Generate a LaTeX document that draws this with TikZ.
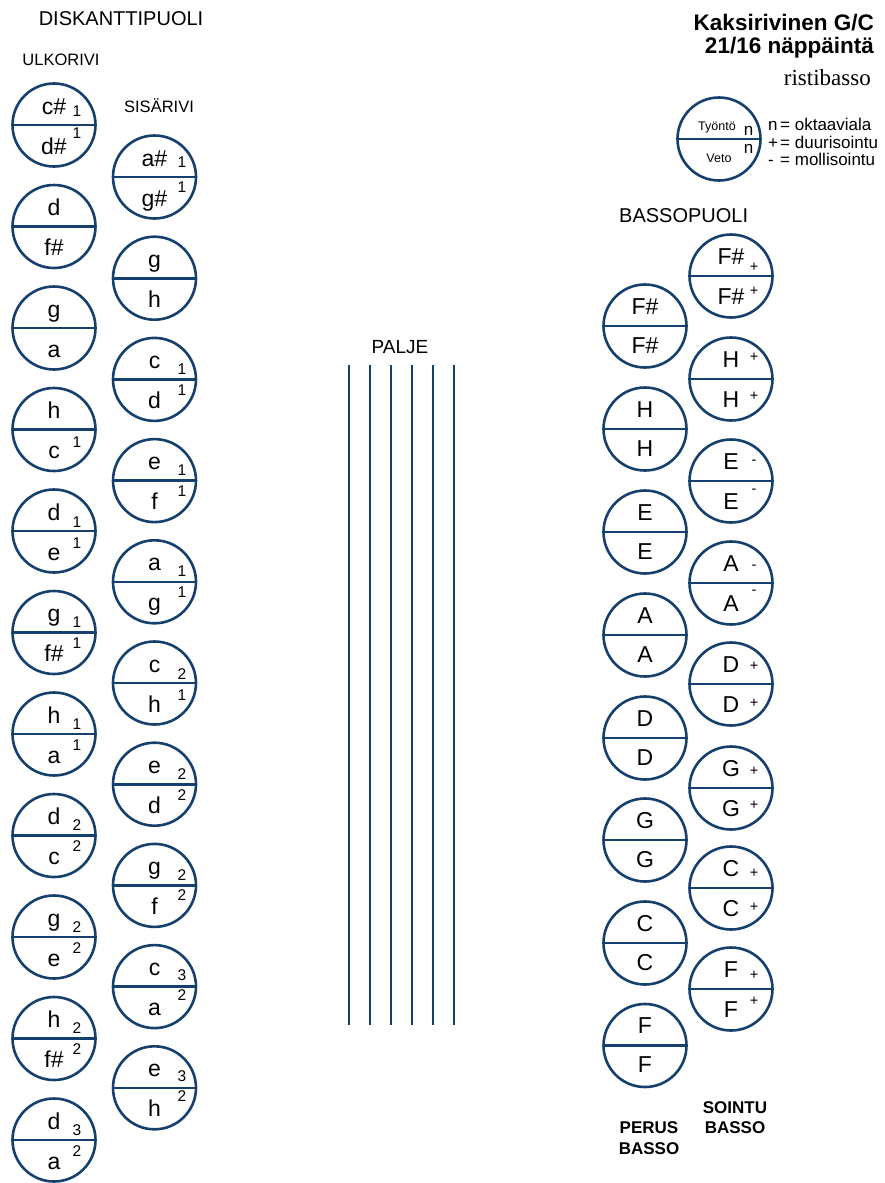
\documentclass[tikz,border=0pt]{standalone}
\usepackage{fontspec}
\setmainfont{Liberation Sans}
\newfontfamily\serifttl{Liberation Serif}
\definecolor{keyblue}{HTML}{15406E}
\tikzset{
  key/.style={circle,draw=keyblue,line width=2.6pt,minimum size=83pt,inner sep=0pt,outer sep=0pt},
  divider/.style={draw=keyblue,line width=2.6pt},
  bellows/.style={draw=keyblue,line width=2.6pt},
  note/.style={inner sep=0pt,font=\fontsize{23}{26}\selectfont,anchor=base},
  marknum/.style={inner sep=0pt,font=\fontsize{15.5}{18}\selectfont,anchor=base},
  signmark/.style={inner sep=0pt,font=\fontsize{14.5}{16}\selectfont,anchor=center},
  heading/.style={inner sep=0pt,font=\fontsize{20}{24}\selectfont,anchor=base},
  rowlabel/.style={inner sep=0pt,font=\fontsize{16.5}{20}\selectfont,anchor=base},
  basslabel/.style={inner sep=0pt,font=\bfseries\fontsize{17}{20}\selectfont,anchor=base},
  legendtxt/.style={inner sep=0pt,font=\fontsize{17}{20}\selectfont,anchor=base west},
  titletxt/.style={inner sep=0pt,font=\bfseries\fontsize{22.5}{26}\selectfont,anchor=base east},
}
\def\mdx{23}
% name, x, y, top, bottom, top mark, top mark baseline offset, bottom mark, bottom mark baseline offset
\newcommand\keybtn[9]{%
  \node[key] (#1) at (#2,#3) {};
  \draw[divider] (#1.west) -- (#1.east);
  \node[note] (#1-t) at ({#2},{#3-11}) {#4};
  \node[note] (#1-b) at ({#2},{#3+29}) {#5};
  \if\relax\detokenize{#6}\relax\else
    \node[marknum] (#1-tm) at ({#2+\mdx},{#3+(#7)}) {#6};\fi
  \if\relax\detokenize{#8}\relax\else
    \node[marknum] (#1-bm) at ({#2+\mdx},{#3+(#9)}) {#8};\fi
}
% name, x, y, letter, top sign, top sign offset, bottom sign, bottom sign offset
\newcommand\chordbtn[8]{%
  \node[key] (#1) at (#2,#3) {};
  \draw[divider] (#1.west) -- (#1.east);
  \node[note] (#1-t) at ({#2},{#3-12}) {#4};
  \node[note] (#1-b) at ({#2},{#3+28}) {#4};
  \node[signmark] (#1-tm) at ({#2+23},{#3+(#6)}) {#5};
  \node[signmark] (#1-bm) at ({#2+23},{#3+(#8)}) {#7};
}
\newcommand\basebtn[4]{%
  \node[key] (#1) at (#2,#3) {};
  \draw[divider] (#1.west) -- (#1.east);
  \node[note] (#1-t) at ({#2},{#3-12}) {#4};
  \node[note] (#1-b) at ({#2},{#3+27}) {#4};
}
\begin{document}
\begin{tikzpicture}[x=1pt,y=-1pt]
\useasboundingbox[fill=white] (0,0) rectangle (885,1183);

% headings
\node[heading] (diskantti) at (121,25) {DISKANTTIPUOLI};
\node[rowlabel] (ulkorivi) at (61,65) {ULKORIVI};
\node[rowlabel] (sisarivi) at (159,112) {SISÄRIVI};
\node[heading,anchor=base west] (bassopuoli) at (619,222) {BASSOPUOLI};
\node[rowlabel,font=\fontsize{19}{22}\selectfont] (palje) at (400,353) {PALJE};

% title
\node[titletxt] (title1) at (874,30) {Kaksirivinen G/C};
\node[titletxt] (title2) at (874,53) {21/16 näppäintä};
\node[inner sep=0pt,anchor=base east,font=\serifttl\fontsize{23}{26}\selectfont] (title3) at (871,85) {ristibasso};

% legend
\node[key] (legend) at (719,139) {};
\draw[divider] (legend.west) -- (legend.east);
\node[inner sep=0pt,anchor=base,font=\fontsize{12.5}{14}\selectfont] (tyonto) at (717,130) {Työntö};
\node[inner sep=0pt,anchor=base,font=\fontsize{12.5}{14}\selectfont] (veto) at (719,162) {Veto};
\node[inner sep=0pt,anchor=base,font=\fontsize{17}{20}\selectfont] (legn1) at (748.5,135) {n};
\node[inner sep=0pt,anchor=base,font=\fontsize{17}{20}\selectfont] (legn2) at (748.5,153) {n};
\node[legendtxt] (leg1) at (768,130) {\makebox[12pt][l]{n}= oktaaviala};
\node[legendtxt] (leg2) at (768,148) {\makebox[12pt][l]{+}= duurisointu};
\node[legendtxt] (leg3) at (768,165) {\makebox[12pt][l]{-}= mollisointu};

% outer row
\def\mdx{23}
\keybtn{o1}{54}{125}{c\#}{d\#}{1}{-9}{1}{13}
\keybtn{o2}{54}{226.5}{d}{f\#}{}{0}{}{0}
\keybtn{o3}{54}{328}{g}{a}{}{0}{}{0}
\keybtn{o4}{54}{429.5}{h}{c}{}{0}{1}{18}
\keybtn{o5}{54}{531}{d}{e}{1}{-4}{1}{17}
\keybtn{o6}{54}{632.5}{g}{f\#}{1}{-5}{1}{16}
\keybtn{o7}{54}{734}{h}{a}{1}{-5}{1}{16}
\keybtn{o8}{54}{835.5}{d}{c}{2}{-5}{2}{16}
\keybtn{o9}{54}{937}{g}{e}{2}{-5}{2}{16}
\keybtn{o10}{54}{1038.5}{h}{f\#}{2}{-5}{2}{16}
\keybtn{o11}{54}{1140}{d}{a}{3}{-5}{2}{16}

% inner row
\def\mdx{27.5}
\keybtn{i1}{154.5}{177}{a\#}{g\#}{1}{-10}{1}{15}
\keybtn{i2}{154.5}{278.2}{g}{h}{}{0}{}{0}
\keybtn{i3}{154.5}{379.4}{c}{d}{1}{-5}{1}{16}
\keybtn{i4}{154.5}{480.6}{e}{f}{1}{-5}{1}{16}
\keybtn{i5}{154.5}{581.8}{a}{g}{1}{-5}{1}{16}
\keybtn{i6}{154.5}{683}{c}{h}{2}{-4}{1}{17}
\keybtn{i7}{154.5}{784.2}{e}{d}{2}{-5}{2}{16}
\keybtn{i8}{154.5}{885.4}{g}{f}{2}{-5}{2}{15}
\keybtn{i9}{154.5}{986.6}{c}{a}{3}{-6}{2}{14}
\keybtn{i10}{154.5}{1087.8}{e}{h}{3}{-6}{2}{14}

% bellows
\foreach \bx [count=\bi] in {349,370,391,412,433,454}{
  \coordinate (b\bi-top) at (\bx,365);
  \coordinate (b\bi-bot) at (\bx,1025);
  \draw[bellows] (b\bi-top) -- (b\bi-bot);
}

% bass: root row
\basebtn{p1}{645}{326}{F\#}
\basebtn{p2}{645}{429}{H}
\basebtn{p3}{645}{532}{E}
\basebtn{p4}{645}{635}{A}
\basebtn{p5}{645}{738}{D}
\basebtn{p6}{645}{840}{G}
\basebtn{p7}{645}{943}{C}
\basebtn{p8}{645}{1045.5}{F}

% bass: chord row
\chordbtn{s1}{731}{276}{F\#}{+}{-9}{+}{15.5}
\chordbtn{s2}{731}{379}{H}{+}{-21.5}{+}{17.5}
\chordbtn{s3}{731}{481}{E}{-}{-19}{-}{10}
\chordbtn{s4}{731}{583}{A}{-}{-16}{-}{9}
\chordbtn{s5}{731}{684}{D}{+}{-18}{+}{19}
\chordbtn{s6}{731}{788}{G}{+}{-17}{+}{17}
\chordbtn{s7}{731}{888}{C}{+}{-15}{+}{19}
\chordbtn{s8}{731}{989}{F}{+}{-14}{+}{12}

% bass labels
\node[basslabel] (perus1) at (649,1133) {PERUS};
\node[basslabel] (perus2) at (649,1154) {BASSO};
\node[basslabel] (sointu1) at (735,1113) {SOINTU};
\node[basslabel] (sointu2) at (735,1133) {BASSO};
\end{tikzpicture}
\end{document}
